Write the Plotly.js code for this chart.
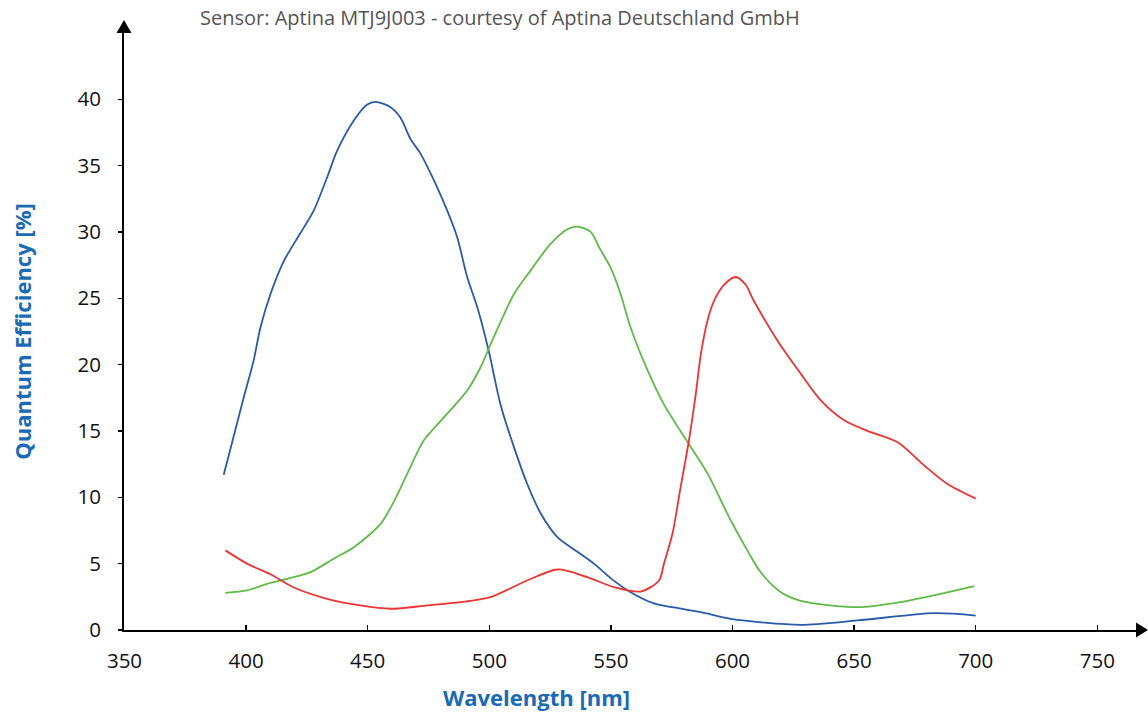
<!DOCTYPE html>
<html>
<head>
<meta charset="utf-8">
<script src="https://cdn.plot.ly/plotly-3.0.1.min.js"></script>
<style>html,body{margin:0;padding:0;background:#fff;}#chart{width:1148px;height:714px;}</style>
</head>
<body>
<div id="chart"></div>
<script>
// Wavelength [nm] / Quantum efficiency [%]
const blueX = [390.8, 399.0, 403.1, 405.9, 410.0, 415.5, 422.3, 427.8, 433.3, 437.4, 444.3, 449.8, 453.2, 459.4, 463.5, 467.6, 471.7, 477.2, 482.7, 486.8, 490.9, 495.1, 499.8, 504.6, 510.1, 515.6, 521.1, 528.0, 536.2, 543.0, 551.3, 558.1, 567.7, 575.9, 587.0, 599.3, 628.1, 651.4, 682.9, 700.0];
const blueY = [11.7, 17.5, 20.3, 22.8, 25.3, 27.8, 29.9, 31.6, 34.1, 36.1, 38.4, 39.6, 39.8, 39.4, 38.6, 37.0, 35.9, 33.9, 31.6, 29.6, 26.6, 24.3, 21.0, 17.0, 13.8, 11.0, 8.8, 7.0, 5.9, 5.0, 3.7, 2.85, 2.0, 1.7, 1.34, 0.84, 0.39, 0.72, 1.27, 1.09];

const greenX = [391.5, 400.4, 408.6, 416.9, 426.5, 436.0, 444.3, 455.3, 461.4, 467.6, 473.1, 482.7, 490.9, 496.4, 501.9, 510.1, 517.0, 525.2, 532.1, 536.2, 541.7, 545.1, 549.9, 554.0, 558.1, 565.0, 571.8, 582.1, 589.7, 599.3, 606.1, 611.6, 619.9, 628.1, 651.4, 672.0, 699.4];
const greenY = [2.8, 2.98, 3.48, 3.86, 4.36, 5.37, 6.24, 8.0, 9.9, 12.3, 14.3, 16.3, 18.05, 19.8, 22.1, 25.3, 27.1, 29.1, 30.2, 30.4, 30.0, 28.85, 27.3, 25.3, 22.8, 19.6, 17.0, 14.0, 11.8, 8.25, 6.0, 4.35, 2.85, 2.2, 1.72, 2.2, 3.3];

const redX = [391.5, 400.4, 410.0, 419.6, 433.3, 447.0, 459.4, 474.5, 492.3, 500.5, 515.6, 528.0, 540.3, 551.3, 562.2, 569.8, 571.8, 575.3, 578.7, 582.1, 584.9, 587.0, 589.7, 592.4, 596.5, 601.3, 605.5, 608.2, 618.5, 628.1, 636.3, 645.9, 655.5, 667.9, 678.8, 688.4, 700.0];
const redY = [6.0, 5.0, 4.2, 3.2, 2.35, 1.85, 1.6, 1.85, 2.2, 2.47, 3.73, 4.56, 3.98, 3.23, 2.9, 3.73, 5.0, 7.25, 10.8, 14.3, 17.8, 20.8, 23.3, 24.8, 26.0, 26.6, 26.0, 25.0, 21.8, 19.3, 17.3, 15.8, 15.0, 14.15, 12.4, 11.0, 9.9];

const xTicks = [350, 400, 450, 500, 550, 600, 650, 700, 750];
const yTicks = [0, 5, 10, 15, 20, 25, 30, 35, 40];

const chartTitle = 'Sensor: Aptina MTJ9J003 - courtesy of Aptina Deutschland GmbH';
const xTitle = 'Wavelength [nm]';
const yTitle = 'Quantum Efficiency [%]';

const W = 1148, H = 714;
const M = {l: 124, r: 12, t: 33, b: 84};
const plotW = W - M.l - M.r, plotH = H - M.t - M.b;
const titleBlue = '#1a6ab4';
const tickFont = {family: 'Open Sans, sans-serif', size: 20.5, color: '#111'};

function trace(x, y, color) {
  return {x: x, y: y, type: 'scatter', mode: 'lines',
          line: {color: color, width: 1.8, shape: 'spline', smoothing: 0.8},
          hoverinfo: 'x+y', showlegend: false};
}

const data = [
  trace(blueX, blueY, '#2a5aa8'),
  trace(greenX, greenY, '#5fba47'),
  trace(redX, redY, '#ec3434')
];

// arrow heads at the axis ends (paper coordinates)
const ax = 7.5 / plotW, ay = 7.5 / plotH;
const layout = {
  width: W, height: H,
  margin: M,
  paper_bgcolor: '#fff', plot_bgcolor: '#fff',
  font: {family: 'Open Sans, sans-serif'},
  title: {text: chartTitle, font: {family: 'Open Sans, sans-serif', size: 20, color: '#555'},
          xref: 'container', yref: 'container', x: 200 / W, xanchor: 'left', y: 1 - 18 / H, yanchor: 'middle'},
  xaxis: {range: [349.8, 765.9], tickvals: xTicks, ticktext: xTicks.map(String),
          showline: true, linecolor: '#000', linewidth: 2, ticks: 'inside', ticklen: 5, tickwidth: 1.3,
          tickcolor: '#000', showgrid: false, zeroline: false, tickfont: tickFont,
          ticklabelstandoff: 11, fixedrange: true},
  yaxis: {range: [0, plotH / 13.27], tickvals: yTicks, ticktext: yTicks.map(String),
          showline: true, linecolor: '#000', linewidth: 2, ticks: 'outside', ticklen: 4, tickwidth: 1.3,
          tickcolor: '#000', showgrid: false, zeroline: false, tickfont: tickFont,
          ticklabelstandoff: 13, fixedrange: true,
          title: {text: yTitle, font: {family: 'Open Sans, sans-serif', size: 22, color: titleBlue, weight: 700}, standoff: 40}},
  annotations: [
    {text: xTitle, xref: 'paper', yref: 'paper', x: (536 - M.l) / plotW, y: -(697 - (H - M.b)) / plotH,
     xanchor: 'center', yanchor: 'middle', showarrow: false,
     font: {family: 'Open Sans, sans-serif', size: 22, color: titleBlue, weight: 700}}
  ],
  shapes: [
    {type: 'path', xref: 'paper', yref: 'paper', layer: 'above',
     path: `M ${-ax} 1 L ${ax} 1 L 0 ${1 + 13 / plotH} Z`, fillcolor: '#000', line: {width: 0}},
    {type: 'path', xref: 'paper', yref: 'paper', layer: 'above',
     path: `M 1 ${-ay} L 1 ${ay} L ${1 + 12 / plotW} 0 Z`, fillcolor: '#000', line: {width: 0}}
  ],
  showlegend: false
};

Plotly.newPlot('chart', data, layout, {displayModeBar: false, staticPlot: true});
</script>
</body>
</html>
